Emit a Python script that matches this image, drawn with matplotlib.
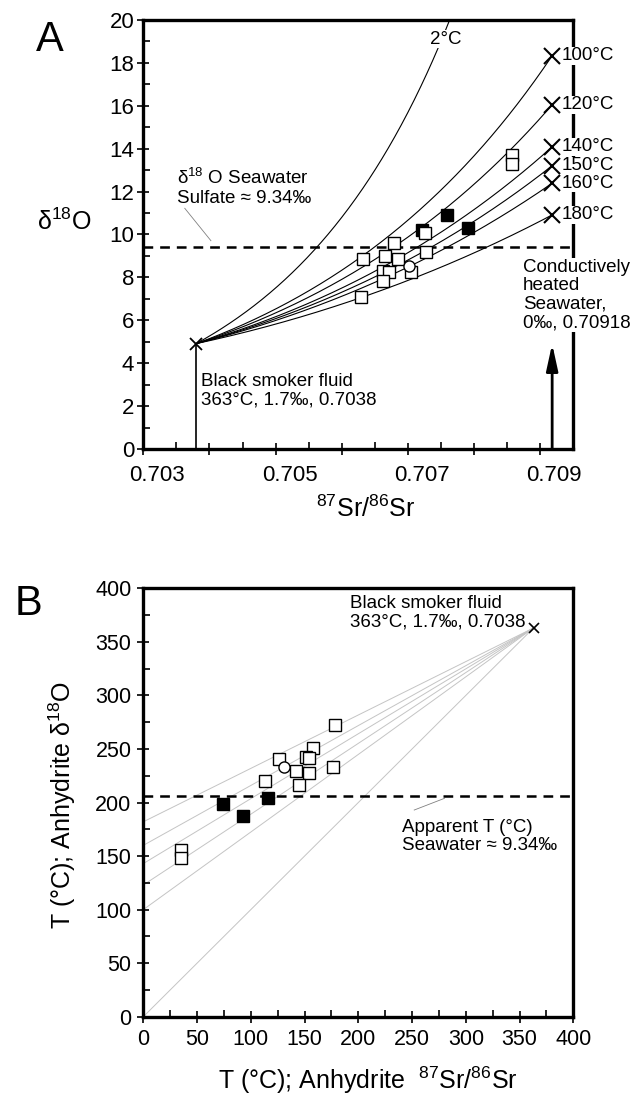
import numpy as np
import matplotlib
matplotlib.use('Agg')
import matplotlib.pyplot as plt
from matplotlib.transforms import ScaledTranslation

plt.rcParams['font.family'] = ['Liberation Sans', 'DejaVu Sans']
plt.rcParams['mathtext.fontset'] = 'custom'
plt.rcParams['mathtext.rm'] = 'Liberation Sans'
plt.rcParams['mathtext.default'] = 'regular'
plt.rcParams['lines.scale_dashes'] = False

# end members
T_HF = 363.0      # black smoker temperature
D_HF = 1.7        # black smoker water d18O
SR_HF = 0.7038
SR_SW = 0.70918
D_SW = 0.0
K_SR = 0.8        # Sr conc ratio seawater / vent fluid
SW_TEMPS = [2, 100, 120, 140, 150, 160, 180]
LABEL_TEMPS = [100, 120, 140, 150, 160, 180]
SW_SULFATE = 9.4

# panel A samples
open_sr = [0.70857, 0.70857, 0.70726, 0.70679, 0.70632, 0.70665, 0.70685,
           0.70728, 0.70663, 0.70671, 0.70705, 0.70662, 0.70629]
open_d18o = [13.71, 13.27, 10.09, 9.59, 8.84, 9.00, 8.84,
             9.20, 8.31, 8.27, 8.27, 7.83, 7.10]
filled_sr = [0.70759, 0.70791, 0.70722]
filled_d18o = [10.91, 10.29, 10.21]
circle_sr = [0.70702]
circle_d18o = [8.55]

# panel B samples
open_tsr = [178.3, 158.1, 151.1, 154.1, 126.2, 141.7, 154.1, 176.2, 113.2, 145.1, 34.8, 34.8]
open_to = [272.4, 251.2, 242.2, 241.3, 240.6, 229.7, 227.5, 232.9, 220.1, 216.6, 155.3, 147.9]
filled_tsr = [74.4, 93.0, 116.3]
filled_to = [198.3, 187.7, 204.5]
circle_tsr = [130.9]
circle_to = [232.9]
fan_intercepts = [182, 160, 143, 123, 100, 0]
APPARENT_T = 206.4


def anhydrite_d18o(d_water, t_c):
    tk = t_c + 273.15
    return d_water + 3.21e6 / tk**2 - 4.72


fig = plt.figure(figsize=(6.31, 10.98), dpi=100)
axA = fig.add_axes([0.2271, 0.5911, 0.6815, 0.3907])
axB = fig.add_axes([0.2271, 0.0740, 0.6815, 0.3902])

# ---------------- A
ax = axA
f = np.linspace(0, 1, 400)
for t_sw in SW_TEMPS:
    t_mix = T_HF * (1 - f) + t_sw * f
    d_w = D_HF * (1 - f) + D_SW * f
    y = anhydrite_d18o(d_w, t_mix)
    s = K_SR * f / ((1 - f) + K_SR * f)
    x = SR_HF + s * (SR_SW - SR_HF)
    ax.plot(x, y, color='black', lw=0.8, zorder=2)

y_hf = anhydrite_d18o(D_HF, T_HF)
ax.plot([SR_HF, SR_HF], [0, y_hf], color='black', lw=1.2, zorder=2)
ax.plot(SR_HF, y_hf, 'x', color='black', ms=9, mew=1.3, zorder=5)

for t in LABEL_TEMPS:
    yy = anhydrite_d18o(D_SW, t)
    ax.plot(SR_SW, yy, 'x', color='black', ms=11, mew=1.5, zorder=6, clip_on=False)
    ax.text(0.709325, yy, '%d°C' % t, fontsize=13.5, va='center', ha='left',
            zorder=7, clip_on=False,
            bbox=dict(fc='white', ec='none', pad=0.3))

ax.axhline(SW_SULFATE, color='black', lw=1.8, dashes=(7, 5), zorder=3)

ax.annotate('', xy=(SR_SW, 4.9), xytext=(SR_SW, 0),
            arrowprops=dict(arrowstyle='-|>,head_length=1.6,head_width=0.35',
                            color='black', lw=2, shrinkA=0, shrinkB=0),
            zorder=6, annotation_clip=False)

ax.plot(filled_sr, filled_d18o, 's', ms=8, mfc='black', mec='black', zorder=8)
ax.plot(open_sr, open_d18o, 's', ms=8, mfc='white', mec='black', mew=1.0, zorder=9)
ax.plot(circle_sr, circle_d18o, 'o', ms=8, mfc='white', mec='black', mew=1.0, zorder=10)

ax.text(0.707578, 19.11, '2°C', fontsize=13.5, ha='center', va='center', zorder=7,
        bbox=dict(fc='white', ec='none', pad=0.5))
ax.text(0.70351, 12.19, 'δ$^{18}$ O Seawater\nSulfate ≈ 9.34‰', fontsize=13.5,
        ha='left', va='center', linespacing=1.1)
ax.plot([0.703627, 0.704022], [11.22, 9.71], color='gray', lw=0.6)
ax.text(0.70387, 2.71, 'Black smoker fluid\n363°C, 1.7‰, 0.7038', fontsize=13.5,
        ha='left', va='center', linespacing=1.15)
ax.text(0.70874, 7.18, 'Conductively\nheated\nSeawater,\n0‰, 0.70918', fontsize=13.5,
        ha='left', va='center', linespacing=1.12, zorder=7, clip_on=False,
        bbox=dict(fc='white', ec='none', pad=0.3))

ax.set_xlim(0.703, 0.7095)
ax.set_ylim(0, 20)
ax.set_xticks([0.703, 0.704, 0.705, 0.706, 0.707, 0.708, 0.709])
ax.set_xticklabels(['0.703', '', '0.705', '', '0.707', '', '0.709'])
ax.set_xticks(np.arange(0.7035, 0.7095, 0.001), minor=True)
ax.set_yticks(range(0, 21, 2))
ax.set_yticks(range(1, 20, 2), minor=True)
ax.tick_params(which='major', direction='inout', length=9, width=1.2, labelsize=16)
ax.tick_params(which='minor', direction='in', length=4.8, width=1.2)
ax.tick_params(axis='x', which='major', pad=7)
ax.tick_params(axis='y', which='major', pad=2)
for lab in ax.get_xticklabels():
    lab.set_transform(lab.get_transform() + ScaledTranslation(0.14, 0, fig.dpi_scale_trans))
for sp in ax.spines.values():
    sp.set_linewidth(2.4)
ax.set_xlabel('$^{87}$Sr/$^{86}$Sr', fontsize=18)
ax.xaxis.label.set_va('center')
ax.xaxis.set_label_coords(0.518, -0.14)
ax.set_ylabel('δ$^{18}$O', fontsize=18, rotation=0, va='center', ha='center')
ax.yaxis.set_label_coords(-0.184, 0.53)
fig.text(50 / 631, 1 - 40 / 1098, 'A', fontsize=30, ha='center', va='center')

# ---------------- B
ax = axB
for b in fan_intercepts:
    ax.plot([0, T_HF], [b, T_HF], color='#c4c4c4', lw=0.7, zorder=1)
ax.plot(T_HF, T_HF, 'x', color='black', ms=7, mew=1.2, zorder=5, clip_on=False)
ax.axhline(APPARENT_T, color='black', lw=1.8, dashes=(7, 5), zorder=3)

ax.plot(filled_tsr, filled_to, 's', ms=8, mfc='black', mec='black', zorder=8)
ax.plot(open_tsr, open_to, 's', ms=8, mfc='white', mec='black', mew=1.0, zorder=9)
ax.plot(circle_tsr, circle_to, 'o', ms=8, mfc='white', mec='black', mew=1.0, zorder=10)

ax.text(192.1, 376.9, 'Black smoker fluid\n363°C, 1.7‰, 0.7038', fontsize=13.5,
        ha='left', va='center', linespacing=1.1)
ax.text(240.8, 168.1, 'Apparent T (°C)\nSeawater ≈ 9.34‰', fontsize=13.5,
        ha='left', va='center', linespacing=1.07)
ax.plot([252, 280.1], [193, 203.9], color='gray', lw=0.6)

ax.set_xlim(0, 400)
ax.set_ylim(0, 400)
ax.set_xticks(range(0, 401, 50))
ax.set_xticks(range(25, 400, 50), minor=True)
ax.set_yticks(range(0, 401, 50))
ax.set_yticks(range(25, 400, 50), minor=True)
ax.tick_params(which='major', direction='inout', length=9, width=1.2, labelsize=15.5, pad=4)
ax.tick_params(which='minor', direction='in', length=4.8, width=1.2)
for sp in ax.spines.values():
    sp.set_linewidth(2.4)
ax.set_xlabel('T (°C); Anhydrite  $^{87}$Sr/$^{86}$Sr', fontsize=18)
ax.xaxis.label.set_va('center')
ax.xaxis.set_label_coords(0.523, -0.148)
ax.set_ylabel('T (°C); Anhydrite δ$^{18}$O', fontsize=18, va='center')
ax.yaxis.set_label_coords(-0.188, 0.494)
fig.text(28 / 631, 1 - 604 / 1098, 'B', fontsize=30, ha='center', va='center')

fig.savefig('out.png', dpi=100)
